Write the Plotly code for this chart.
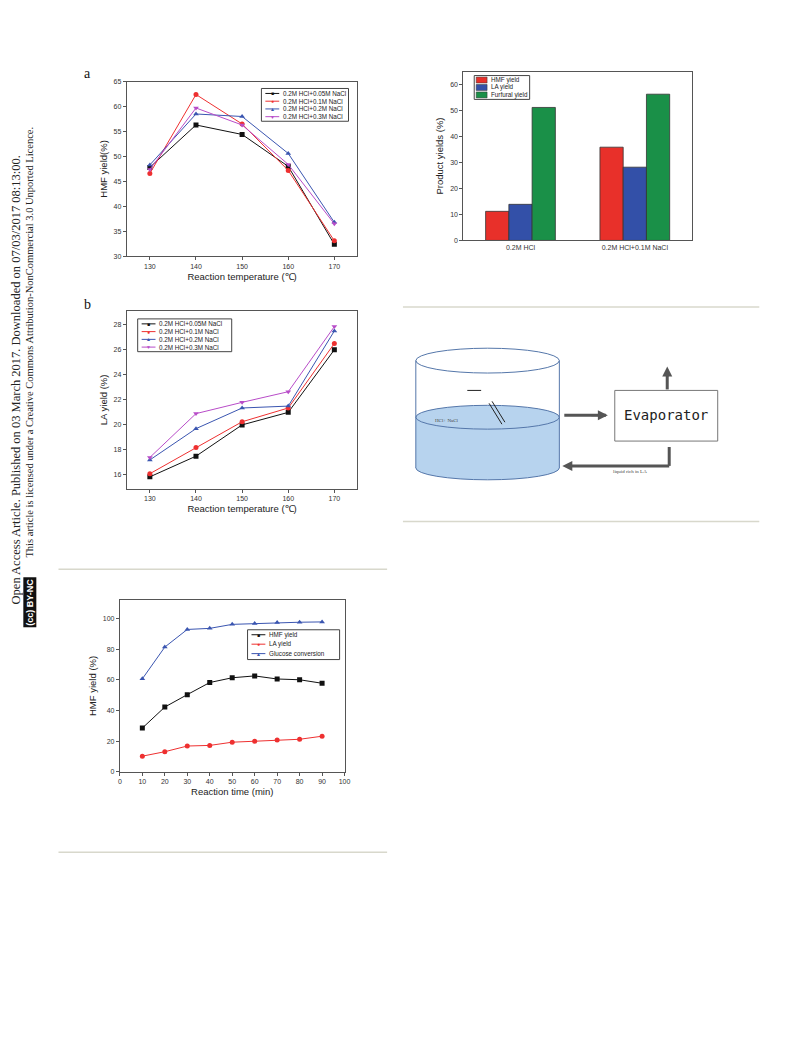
import plotly.graph_objects as go

OFF = 8
W, H = 793 - OFF, 1039 - OFF
def px(x): return (x - OFF) / W
def py(y): return 1 - (y - OFF) / H

temps = [130, 140, 150, 160, 170]
series_names = ["0.2M HCl+0.05M NaCl", "0.2M HCl+0.1M NaCl", "0.2M HCl+0.2M NaCl", "0.2M HCl+0.3M NaCl"]
hmf_a = [[47.8, 56.3, 54.4, 48.0, 32.4],
         [46.6, 62.4, 56.5, 47.2, 33.1],
         [48.3, 58.5, 58.0, 50.6, 36.8],
         [47.4, 59.7, 56.3, 48.4, 36.5]]
la_b = [[15.85, 17.5, 20.0, 21.0, 26.0],
        [16.1, 18.2, 20.25, 21.35, 26.5],
        [17.2, 19.7, 21.35, 21.5, 27.5],
        [17.4, 20.9, 21.8, 22.65, 27.85]]
times = [10, 20, 30, 40, 50, 60, 70, 80, 90]
c_names = ["HMF yield", "LA yield", "Glucose conversion"]
hmf_c = [28.5, 42.2, 50.3, 58.2, 61.3, 62.5, 60.5, 60.0, 57.7]
la_c = [10.2, 13.1, 16.8, 17.2, 19.3, 19.9, 20.7, 21.2, 23.2]
glu_c = [60.6, 81.3, 92.8, 93.5, 96.1, 96.6, 97.3, 97.5, 97.7]
bar_cats = ["0.2M HCl", "0.2M HCl+0.1M NaCl"]
bar_names = ["HMF yield", "LA yield", "Furfural yield"]
bar_hmf = [11.2, 35.9]
bar_la = [13.9, 28.2]
bar_fur = [51.2, 56.3]

colors = ["#111111", "#ee3030", "#3a55b0", "#b84cc8"]
bar_colors = ["#e8302a", "#3350a8", "#1a9048"]
symbols = ["square", "circle", "triangle-up", "triangle-down"]
glyphs = ["■", "●", "▲", "▼"]
F = "Liberation Sans, Arial"
fig = go.Figure()

for i in range(4):
    fig.add_trace(go.Scatter(x=temps, y=hmf_a[i], name=series_names[i], mode="lines+markers",
                             line=dict(color=colors[i], width=1), marker=dict(symbol=symbols[i], size=5, color=colors[i]),
                             xaxis="x", yaxis="y"))
for i in range(4):
    fig.add_trace(go.Scatter(x=temps, y=la_b[i], name=series_names[i], mode="lines+markers",
                             line=dict(color=colors[i], width=1), marker=dict(symbol=symbols[i], size=5, color=colors[i]),
                             xaxis="x2", yaxis="y2"))
for i, vals in enumerate([hmf_c, la_c, glu_c]):
    fig.add_trace(go.Scatter(x=times, y=vals, name=c_names[i], mode="lines+markers",
                             line=dict(color=colors[i], width=1), marker=dict(symbol=symbols[i], size=5, color=colors[i]),
                             xaxis="x3", yaxis="y3"))
for i, vals in enumerate([bar_hmf, bar_la, bar_fur]):
    fig.add_trace(go.Bar(x=bar_cats, y=vals, name=bar_names[i], marker=dict(color=bar_colors[i], line=dict(color="#333", width=0.8)),
                         xaxis="x4", yaxis="y4"))

ax = dict(showline=True, linecolor="#555", linewidth=1, mirror=True, ticks="outside", ticklen=3,
          tickcolor="#555", showgrid=False, zeroline=False, tickfont=dict(size=7, family=F, color="#333"))
def tfont(s=9.5): return dict(size=s, family=F, color="#222")

fig.update_layout(
    width=W, height=H, margin=dict(l=0, r=0, t=0, b=0), paper_bgcolor="white", plot_bgcolor="white",
    showlegend=False, barmode="group", bargap=0.39, bargroupgap=0,
    xaxis=dict(ax, domain=[px(126), px(359)], range=[125, 175], dtick=10, anchor="y",
               title=dict(text="Reaction temperature (℃)", font=tfont(), standoff=4)),
    yaxis=dict(ax, domain=[py(254), py(78)], range=[30, 65], dtick=5, anchor="x",
               title=dict(text="HMF yield(%)", font=tfont(), standoff=4)),
    xaxis2=dict(ax, domain=[px(126), px(359)], range=[125, 175], dtick=10, anchor="y2",
                title=dict(text="Reaction temperature (℃)", font=tfont(), standoff=4)),
    yaxis2=dict(ax, domain=[py(488), py(309)], range=[14.9, 29.1], dtick=2, anchor="x2",
                title=dict(text="LA yield (%)", font=tfont(), standoff=4)),
    xaxis3=dict(ax, domain=[px(119), px(346)], range=[0, 100], dtick=10, anchor="y3",
                title=dict(text="Reaction time (min)", font=tfont(), standoff=4)),
    yaxis3=dict(ax, domain=[py(773), py(600)], range=[0, 112], dtick=20, anchor="x3",
                title=dict(text="HMF yield (%)", font=tfont(), standoff=4)),
    xaxis4=dict(ax, domain=[px(466), px(697)], anchor="y4", ticks=""),
    yaxis4=dict(ax, domain=[py(238), py(68)], range=[0, 65], dtick=10, anchor="x4",
                title=dict(text="Product yields (%)", font=tfont(), standoff=4)),
)

shapes, ann = [], []
def line(x0, y0, x1, y1, c="#d8d8cc", w=1.5):
    shapes.append(dict(type="line", xref="paper", yref="paper", x0=px(x0), y0=py(y0), x1=px(x1), y1=py(y1),
                       line=dict(color=c, width=w)))
def rect(x0, y0, x1, y1, fill, lc="rgba(0,0,0,0)", w=1):
    shapes.append(dict(type="rect", xref="paper", yref="paper", x0=px(x0), y0=py(y0), x1=px(x1), y1=py(y1),
                       fillcolor=fill, line=dict(color=lc, width=w)))
def ell(cx, cy, rx, ry, fill, lc="#5577aa"):
    shapes.append(dict(type="circle", xref="paper", yref="paper", x0=px(cx - rx), y0=py(cy - ry),
                       x1=px(cx + rx), y1=py(cy + ry), fillcolor=fill, line=dict(color=lc, width=1)))
def text(x, y, t, size, color="#222", family=F, xa="center", angle=0, bg=None):
    d = dict(x=px(x), y=py(y), text=t, xref="paper", yref="paper", showarrow=False, xanchor=xa, yanchor="middle",
             textangle=angle, font=dict(size=size, family=family, color=color))
    if bg: d["bgcolor"] = bg
    ann.append(d)

def line_legend(x0, y0, x1, y1, names, step):
    rect(x0, y0, x1, y1, "white", "#444", 1)
    for i, nm in enumerate(names):
        yy = y0 + 5 + i * step
        line(x0 + 4, yy, x0 + 18, yy, colors[i], 1)
        text(x0 + 11, yy, glyphs[i], 5, colors[i])
        text(x0 + 20, yy, nm, 6.3, xa="left")
line_legend(262, 85, 350, 118, series_names, 7.8)
line_legend(137, 317, 232, 350, series_names, 7.8)
line_legend(248, 630, 341, 660, c_names, 9.5)
rect(477, 72, 533, 96, "white", "#444", 1)
for i, nm in enumerate(bar_names):
    yy = 76.5 + i * 7.5
    rect(479, yy - 3, 490, yy + 3, bar_colors[i], "#333", 0.5)
    text(492, yy, nm, 6.3, xa="left")

line(57, 569, 389, 569); line(57, 854, 389, 854)
line(405, 305, 765, 305); line(405, 521, 765, 521)

ell(490.5, 467, 72.5, 12, "#b7d3ee")
rect(418, 416, 563, 467, "#b7d3ee")
ell(490.5, 416, 72.5, 12, "#b7d3ee")
line(418, 359, 418, 467, "#5577aa", 1); line(563, 359, 563, 467, "#5577aa", 1)
ell(490.5, 359, 72.5, 12.5, "rgba(0,0,0,0)")
rect(619, 389, 723, 440, "white", "#777", 1)
line(568, 414, 610, 414, "#555", 3); line(672, 388, 672, 370, "#555", 3)
line(674, 446, 674, 465, "#555", 3); line(674, 465, 573, 465, "#555", 3)
line(492, 402, 505, 423, "#222", 1); line(495, 400, 508, 421, "#222", 1)
line(470, 389, 484, 389, "#222", 1)

text(86, 70, "a", 14, "#111", "Liberation Serif")
text(86, 302, "b", 14, "#111", "Liberation Serif")
text(671, 414, "Evaporator", 14, "#222", "DejaVu Sans Mono")
text(634, 471, "liquid rich in LA", 5, "#444", "Liberation Serif")
text(450, 419, "HCl+ NaCl", 5, "#444", "Liberation Serif")
text(15, 378, "Open Access Article. Published on 03 March 2017. Downloaded on 07/03/2017 08:13:00.",
     12.5, "#222", "Liberation Serif", angle=-90)
text(28, 340, "This article is licensed under a Creative Commons Attribution-NonCommercial 3.0 Unported Licence.",
     10.5, "#222", "Liberation Serif", angle=-90)
text(28, 602, "<b>(cc) BY-NC</b>", 9, "white", angle=-90, bg="#111")

fig.update_layout(shapes=shapes, annotations=ann)
for (x, y, dx, dy) in [(612, 414, -18, 0), (672, 365, 0, 12), (566, 465, 18, 0)]:
    fig.add_annotation(xref="paper", yref="paper", x=px(x), y=py(y), ax=dx, ay=dy, axref="pixel", ayref="pixel",
                       text="", showarrow=True, arrowhead=2, arrowcolor="#555", arrowwidth=2)
fig.write_html("out.html")
